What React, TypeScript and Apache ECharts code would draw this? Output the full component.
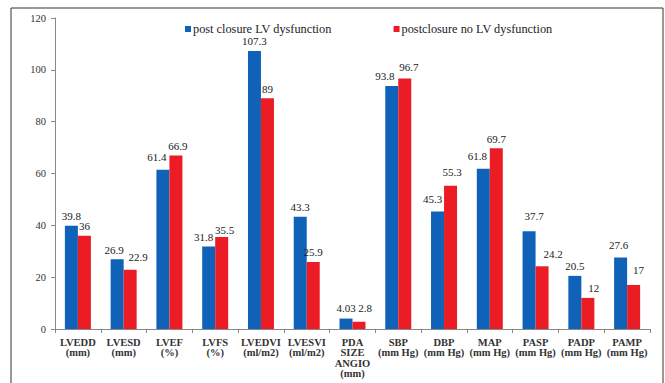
import React, { useEffect, useRef } from "react";
import * as echarts from "echarts";

const categories = [
  "LVEDD\n(mm)",
  "LVESD\n(mm)",
  "LVEF\n(%)",
  "LVFS\n(%)",
  "LVEDVI\n(ml/m2)",
  "LVESVI\n(ml/m2)",
  "PDA\nSIZE\nANGIO\n(mm)",
  "SBP\n(mm Hg)",
  "DBP\n(mm Hg)",
  "MAP\n(mm Hg)",
  "PASP\n(mm Hg)",
  "PADP\n(mm Hg)",
  "PAMP\n(mm Hg)",
];
const lvDysfunction = [39.8, 26.9, 61.4, 31.8, 107.3, 43.3, 4.03, 93.8, 45.3, 61.8, 37.7, 20.5, 27.6];
const noLvDysfunction = [36, 22.9, 66.9, 35.5, 89, 25.9, 2.8, 96.7, 55.3, 69.7, 24.2, 12, 17];
const seriesNames = ["post closure LV dysfunction", "postclosure no LV dysfunction"];

const FONT = "'Liberation Serif', 'Times New Roman', 'DejaVu Serif', serif";

// label position nudges [dx, dy] (hand-placed labels in the original)
const blueNudge: Record<number, number[]> = {
  1: [-3, 0],
  2: [-6, -3],
  3: [-5, 0],
  6: [0, -1],
  7: [-7, 0],
  8: [-5, -3],
  9: [-6, -3],
  10: [5, -6],
  12: [-2, -3],
};
const redNudge: Record<number, number[]> = {
  1: [8, -3],
  2: [2, 0],
  3: [3, 3],
  6: [6, -4],
  7: [4, -2],
  8: [1.5, -4],
  10: [11, -3],
  11: [6, 0],
  12: [5, -5],
};

export default function App() {
  const ref = useRef<HTMLDivElement>(null);
  useEffect(() => {
    const chart = echarts.init(ref.current!, undefined, { renderer: "svg" });
    const labelStyle = {
      show: true,
      position: "top" as const,
      distance: 4,
      fontFamily: FONT,
      fontSize: 11,
      color: "#222",
    };
    const withNudge = (arr: number[], nudge: Record<number, number[]>) =>
      arr.map((v, i) => (nudge[i] !== undefined ? { value: v, label: { offset: nudge[i] } } : v));
    chart.setOption({
      animation: false,
      backgroundColor: "#fff",
      textStyle: { fontFamily: FONT },
      graphic: [
        {
          type: "rect",
          shape: { x: 11, y: 8, width: 652, height: 420 },
          style: { fill: "none", stroke: "#333", lineWidth: 1 },
          silent: true,
        },
      ],
      legend: {
        top: 18,
        left: 180,
        itemWidth: 6,
        itemHeight: 6,
        itemGap: 62,
        icon: "rect",
        textStyle: { fontFamily: FONT, fontSize: 12.3, color: "#222", padding: [0, 0, 0, -3] },
        data: seriesNames,
      },
      grid: { left: 55, right: 15, top: 18, bottom: 54, containLabel: false },
      xAxis: {
        type: "category",
        data: categories,
        axisLine: { lineStyle: { color: "#888" } },
        axisTick: { show: true, alignWithLabel: false, length: 4, lineStyle: { color: "#888" } },
        axisLabel: {
          interval: 0,
          fontFamily: FONT,
          fontSize: 10.5,
          fontWeight: "bold",
          color: "#333",
          lineHeight: 10.5,
          margin: 8,
        },
      },
      yAxis: {
        type: "value",
        min: 0,
        max: 120,
        interval: 20,
        splitLine: { show: false },
        axisLine: { show: true, lineStyle: { color: "#888" } },
        axisTick: { show: true, length: 4, lineStyle: { color: "#888" } },
        axisLabel: { fontFamily: FONT, fontSize: 10.5, color: "#333", margin: 9 },
      },
      series: [
        {
          name: seriesNames[0],
          type: "bar",
          data: withNudge(lvDysfunction, blueNudge),
          barWidth: 13,
          barGap: "0%",
          itemStyle: { color: "#0F62B8" },
          label: labelStyle,
        },
        {
          name: seriesNames[1],
          type: "bar",
          data: withNudge(noLvDysfunction, redNudge),
          barWidth: 13,
          barGap: "0%",
          itemStyle: { color: "#EC1C24" },
          label: labelStyle,
        },
      ],
    });
    return () => chart.dispose();
  }, []);
  return <div ref={ref} style={{ width: 665, height: 383, position: "absolute", left: 0, top: 0 }} />;
}
